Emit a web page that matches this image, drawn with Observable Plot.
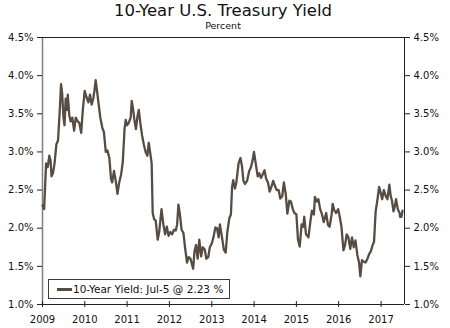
<!DOCTYPE html>
<html>
<head>
<meta charset="utf-8">
<script src="https://cdn.jsdelivr.net/npm/d3@7"></script>
<script src="https://cdn.jsdelivr.net/npm/@observablehq/plot@0.6"></script>
<style>
  html, body { margin: 0; padding: 0; background: #fff; }
  #wrap { position: relative; width: 450px; height: 328px; font-family: "DejaVu Sans", Verdana, sans-serif; color: #111; }
  #title { position: absolute; left: -2px; width: 450px; top: 1px; text-align: center; font-size: 16.5px; line-height: 19px; }
  #sub { position: absolute; left: -2px; width: 450px; top: 20px; text-align: center; font-size: 9.5px; line-height: 11px; }
  #chart { position: absolute; left: 0; top: 0; }
  #legend { position: absolute; left: 48px; top: 279px; width: 182px; height: 20px; border: 1px solid #3a3a3a; background: #fff; box-sizing: border-box; }
  #legend .sw { position: absolute; left: 8px; top: 8px; width: 15px; height: 3px; background: #574c42; }
  #legend .lb { position: absolute; left: 24px; top: 3px; font-size: 10.5px; line-height: 12px; white-space: nowrap; color: #111; }
</style>
</head>
<body>
<div id="wrap">
  <div id="chart"></div>
  <div id="title">10-Year U.S. Treasury Yield</div>
  <div id="sub">Percent</div>
  <div id="legend"><div class="sw"></div><div class="lb">10-Year Yield: Jul-5 @ 2.23 %</div></div>
</div>
<script>
const dates = [
  "2009-01-02","2009-01-15","2009-02-01","2009-02-15","2009-03-01","2009-03-12","2009-03-20","2009-04-01","2009-04-15","2009-05-01","2009-05-15","2009-06-01","2009-06-10","2009-06-20","2009-07-01","2009-07-10","2009-07-20","2009-08-01","2009-08-07","2009-08-20","2009-09-01","2009-09-15","2009-10-01","2009-10-15","2009-11-01","2009-11-15","2009-12-01","2009-12-15","2009-12-31",
  "2010-01-15","2010-02-01","2010-02-15","2010-03-01","2010-03-15","2010-03-25","2010-04-05","2010-04-15","2010-05-01","2010-05-15","2010-06-01","2010-06-15","2010-07-01","2010-07-15","2010-08-01","2010-08-15","2010-08-25","2010-09-10","2010-09-25","2010-10-10","2010-10-25","2010-11-10","2010-11-25","2010-12-10","2010-12-20",
  "2011-01-01","2011-01-15","2011-02-01","2011-02-10","2011-02-20","2011-03-05","2011-03-18","2011-04-01","2011-04-12","2011-04-25","2011-05-10","2011-05-25","2011-06-10","2011-06-25","2011-07-07","2011-07-20","2011-08-01","2011-08-10","2011-08-22","2011-09-05","2011-09-22","2011-10-05","2011-10-25","2011-11-10","2011-11-25","2011-12-10","2011-12-25",
  "2012-01-10","2012-01-25","2012-02-10","2012-02-25","2012-03-08","2012-03-19","2012-04-01","2012-04-15","2012-05-01","2012-05-15","2012-06-01","2012-06-15","2012-07-01","2012-07-24","2012-08-05","2012-08-18","2012-09-01","2012-09-15","2012-10-01","2012-10-15","2012-11-01","2012-11-15","2012-12-01","2012-12-15",
  "2013-01-01","2013-01-15","2013-02-01","2013-02-15","2013-03-01","2013-03-12","2013-04-01","2013-04-15","2013-05-01","2013-05-15","2013-06-01","2013-06-15","2013-06-25","2013-07-05","2013-07-20","2013-08-01","2013-08-20","2013-09-05","2013-09-18","2013-10-01","2013-10-15","2013-11-01","2013-11-20","2013-12-05","2013-12-18","2013-12-31",
  "2014-01-15","2014-02-01","2014-02-15","2014-03-01","2014-03-15","2014-04-01","2014-04-15","2014-05-01","2014-05-15","2014-06-01","2014-06-15","2014-07-01","2014-07-15","2014-08-01","2014-08-15","2014-09-01","2014-09-15","2014-10-01","2014-10-15","2014-11-01","2014-11-15","2014-12-01","2014-12-15",
  "2015-01-01","2015-01-15","2015-01-30","2015-02-15","2015-03-01","2015-03-10","2015-03-25","2015-04-15","2015-05-01","2015-05-15","2015-06-01","2015-06-10","2015-06-25","2015-07-10","2015-07-25","2015-08-10","2015-08-25","2015-09-15","2015-10-01","2015-10-15","2015-11-01","2015-11-10","2015-11-25","2015-12-10","2015-12-28",
  "2016-01-10","2016-01-25","2016-02-11","2016-02-25","2016-03-10","2016-03-25","2016-04-10","2016-04-25","2016-05-10","2016-05-25","2016-06-10","2016-06-25","2016-07-06","2016-07-20","2016-08-05","2016-08-20","2016-09-05","2016-09-20","2016-10-05","2016-10-20","2016-11-01","2016-11-15","2016-12-01","2016-12-15","2016-12-31",
  "2017-01-10","2017-01-25","2017-02-10","2017-02-25","2017-03-13","2017-03-25","2017-04-05","2017-04-18","2017-05-01","2017-05-10","2017-05-25","2017-06-10","2017-06-14","2017-06-26","2017-07-05"
];
const yields = [
  2.30,2.25,2.85,2.80,2.95,2.88,2.68,2.72,2.85,3.10,3.15,3.60,3.89,3.76,3.45,3.35,3.70,3.55,3.75,3.48,3.40,3.45,3.28,3.45,3.40,3.38,3.25,3.55,3.80,
  3.72,3.65,3.75,3.62,3.70,3.80,3.94,3.82,3.62,3.45,3.32,3.26,3.00,3.02,2.92,2.65,2.60,2.75,2.62,2.45,2.60,2.70,2.87,3.30,3.42,
  3.35,3.38,3.45,3.67,3.58,3.42,3.30,3.47,3.55,3.38,3.22,3.10,3.00,2.95,3.12,2.98,2.85,2.20,2.12,2.10,1.85,1.95,2.25,2.05,1.92,2.02,1.90,
  1.95,1.92,1.98,1.97,2.05,2.31,2.18,1.98,1.94,1.75,1.55,1.62,1.60,1.47,1.70,1.78,1.60,1.85,1.63,1.75,1.72,1.60,1.62,1.75,
  1.80,1.88,2.01,2.00,1.88,2.05,1.86,1.72,1.68,1.95,2.13,2.18,2.54,2.63,2.52,2.60,2.85,2.92,2.82,2.62,2.58,2.62,2.75,2.80,2.88,3.00,
  2.85,2.68,2.72,2.66,2.70,2.76,2.65,2.60,2.48,2.55,2.62,2.55,2.50,2.50,2.39,2.42,2.60,2.45,2.19,2.36,2.35,2.25,2.20,
  2.18,1.85,1.76,2.05,2.02,2.15,1.92,1.88,2.08,2.23,2.18,2.41,2.35,2.38,2.25,2.18,2.08,2.20,2.04,2.02,2.18,2.32,2.23,2.20,2.25,
  2.15,2.02,1.71,1.78,1.92,1.88,1.73,1.88,1.75,1.84,1.65,1.55,1.37,1.58,1.56,1.55,1.60,1.66,1.70,1.78,1.82,2.22,2.38,2.54,2.45,
  2.38,2.50,2.42,2.38,2.57,2.42,2.36,2.22,2.30,2.38,2.25,2.20,2.15,2.15,2.23
];
const yTicks = [1.0,1.5,2.0,2.5,3.0,3.5,4.0,4.5];
const xTickYears = ["2009","2010","2011","2012","2013","2014","2015","2016","2017"];

const data = dates.map((d, i) => ({date: new Date(d + "T00:00:00Z"), value: yields[i]}));
const xTicks = xTickYears.map(y => new Date(y + "-01-01T00:00:00Z"));

const fmt = d => d.toFixed(1) + "%";
const chart = Plot.plot({
  width: 450,
  height: 328,
  marginTop: 37,
  marginBottom: 24,
  marginLeft: 42,
  marginRight: 46,
  style: {fontFamily: "DejaVu Sans, Verdana, sans-serif", fontSize: "10px", color: "#111", background: "#fff"},
  x: {type: "utc", domain: [new Date("2009-01-01T00:00:00Z"), new Date("2017-07-22T00:00:00Z")]},
  y: {domain: [1.0, 4.5]},
  marks: [
    Plot.ruleX([new Date("2009-01-01T00:00:00Z")], {stroke: "#808080", strokeWidth: 1.5}),
    Plot.ruleX([new Date("2017-07-22T00:00:00Z")], {stroke: "#222", strokeWidth: 1}),
    Plot.ruleY([4.5], {stroke: "#222", strokeWidth: 1}),
    Plot.ruleY([1.0], {stroke: "#222", strokeWidth: 1}),
    Plot.axisY({anchor: "left", ticks: yTicks, tickFormat: fmt, tickSize: 5, tickPadding: 4, stroke: "#222", label: null}),
    Plot.axisY({anchor: "right", ticks: yTicks, tickFormat: fmt, tickSize: 5, tickPadding: 4, stroke: "#222", label: null}),
    Plot.axisX({ticks: xTicks, tickFormat: "%Y", tickSize: 3, tickPadding: 8, stroke: "#222", label: null}),
    Plot.axisX({ticks: xTicks, tickFormat: () => "", tickSize: -3, stroke: "#222", label: null}),
    Plot.line(data, {x: "date", y: "value", stroke: "#574c42", strokeWidth: 2.3, strokeLinejoin: "round"})
  ]
});
document.getElementById("chart").appendChild(chart);
</script>
</body>
</html>
